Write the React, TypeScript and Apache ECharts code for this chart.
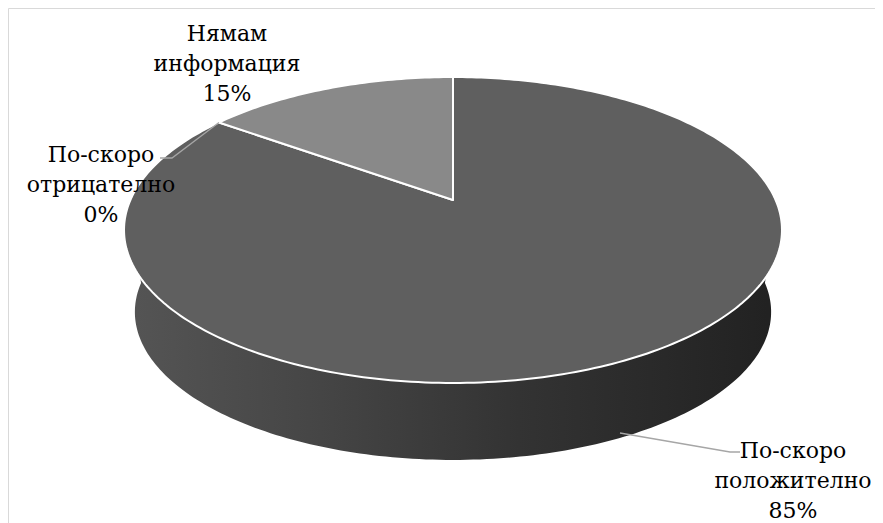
import React, { useEffect, useRef } from "react";
import * as echarts from "echarts";

// ---- data ----
const categories = ["По-скоро положително", "По-скоро отрицателно", "Нямам информация"];
const labelTexts = ["По-скоро\nположително", "По-скоро\nотрицателно", "Нямам\nинформация"];
const values = [85, 0, 15];

// ---- styles / layout ----
const topColors = ["#5f5f5f", "#4c4c4c", "#898989"];
const labelCenters = [
  [785, 472],
  [93, 176],
  [219, 55],
];
// leader lines (label side points); start point on the pie is computed or fixed
const leaderEnds: (number[][] | null)[] = [
  [[612, 425], [722, 444], [732, 444]],
  [[164, 150], [152, 150]],
  null,
];

// perspective projection of the pie disc
const PX = 445;
const PY = 192;
const A = 322.6;
const B = 147.1;
const C = 0.196;
const K = 0.967;
const H = 83;

function proj(phi: number, bottom: boolean): number[] {
  const u = Math.sin(phi);
  const v = Math.cos(phi);
  const d = 1 + C * v;
  const s = bottom ? K : 1;
  return [PX + (s * A * u) / d, PY + (bottom ? H : 0) - (s * B * v) / d];
}

function arcPoints(a0: number, a1: number, bottom: boolean): number[][] {
  const pts: number[][] = [];
  const n = Math.max(2, Math.ceil(((a1 - a0) * 180) / Math.PI));
  for (let i = 0; i <= n; i++) pts.push(proj(a0 + ((a1 - a0) * i) / n, bottom));
  return pts;
}

export default function App() {
  const ref = useRef<HTMLDivElement>(null);
  useEffect(() => {
    document.documentElement.style.overflow = "hidden";
    const chart = echarts.init(ref.current!, null, { renderer: "svg" });
    const total = values.reduce((s, v) => s + v, 0);
    const starts: number[] = [];
    let acc = 0;
    values.forEach((v) => {
      starts.push(acc);
      acc += v;
    });

    const renderItem = (params: any, api: any) => {
      const i = params.dataIndex;
      const val = api.value(0);
      const a0 = (starts[i] / total) * Math.PI * 2;
      const a1 = ((starts[i] + val) / total) * Math.PI * 2;
      const children: any[] = [];
      if (val > 0) {
        const s0 = Math.max(a0, Math.PI / 2);
        const s1 = Math.min(a1, (Math.PI * 3) / 2);
        if (s1 > s0) {
          const top = arcPoints(s0, s1, false);
          const bot = arcPoints(s0, s1, true).reverse();
          children.push({
            type: "polygon",
            z2: 1,
            shape: { points: top.concat(bot) },
            style: {
              fill: {
                type: "linear",
                x: 0,
                y: 0,
                x2: 1,
                y2: 0,
                colorStops: [
                  { offset: 0, color: "#555555" },
                  { offset: 0.3, color: "#454545" },
                  { offset: 0.6, color: "#333333" },
                  { offset: 1, color: "#212121" },
                ],
              },
              stroke: null,
            },
          });
        }
        const pts = [[PX, PY]].concat(arcPoints(a0, a1, false));
        children.push({
          type: "polygon",
          z2: 10,
          shape: { points: pts },
          style: { fill: topColors[i], stroke: "#ffffff", lineWidth: 2, lineJoin: "round" },
        });
      }
      const le = leaderEnds[i];
      if (le) {
        const first = i === 1 ? [proj(a0, false)] : [];
        children.push({
          type: "polyline",
          z2: 15,
          shape: { points: first.concat(le) },
          style: { stroke: "#a6a6a6", lineWidth: 1.3, fill: null },
        });
      }
      const pct = Math.round((val / total) * 100);
      children.push({
        type: "text",
        z2: 20,
        style: {
          text: labelTexts[i] + "\n" + pct + "%",
          x: labelCenters[i][0],
          y: labelCenters[i][1],
          align: "center",
          verticalAlign: "middle",
          fontSize: 22,
          fontFamily: "DejaVu Serif",
          lineHeight: 30,
          fill: "#000000",
        },
      });
      return { type: "group", children };
    };

    chart.setOption({
      animation: false,
      backgroundColor: "#ffffff",
      graphic: [
        {
          type: "rect",
          z: -1,
          shape: { x: 0.5, y: 0.5, width: 2000, height: 2000 },
          style: { fill: null, stroke: "#d9d9d9", lineWidth: 1 },
        },
      ],
      series: [
        {
          type: "custom",
          coordinateSystem: "none",
          renderItem,
          data: values.map((v, i) => ({ name: categories[i], value: [v] })),
        },
      ],
    });
    return () => chart.dispose();
  }, []);
  return <div ref={ref} style={{ width: 875, height: 515 }} />;
}
